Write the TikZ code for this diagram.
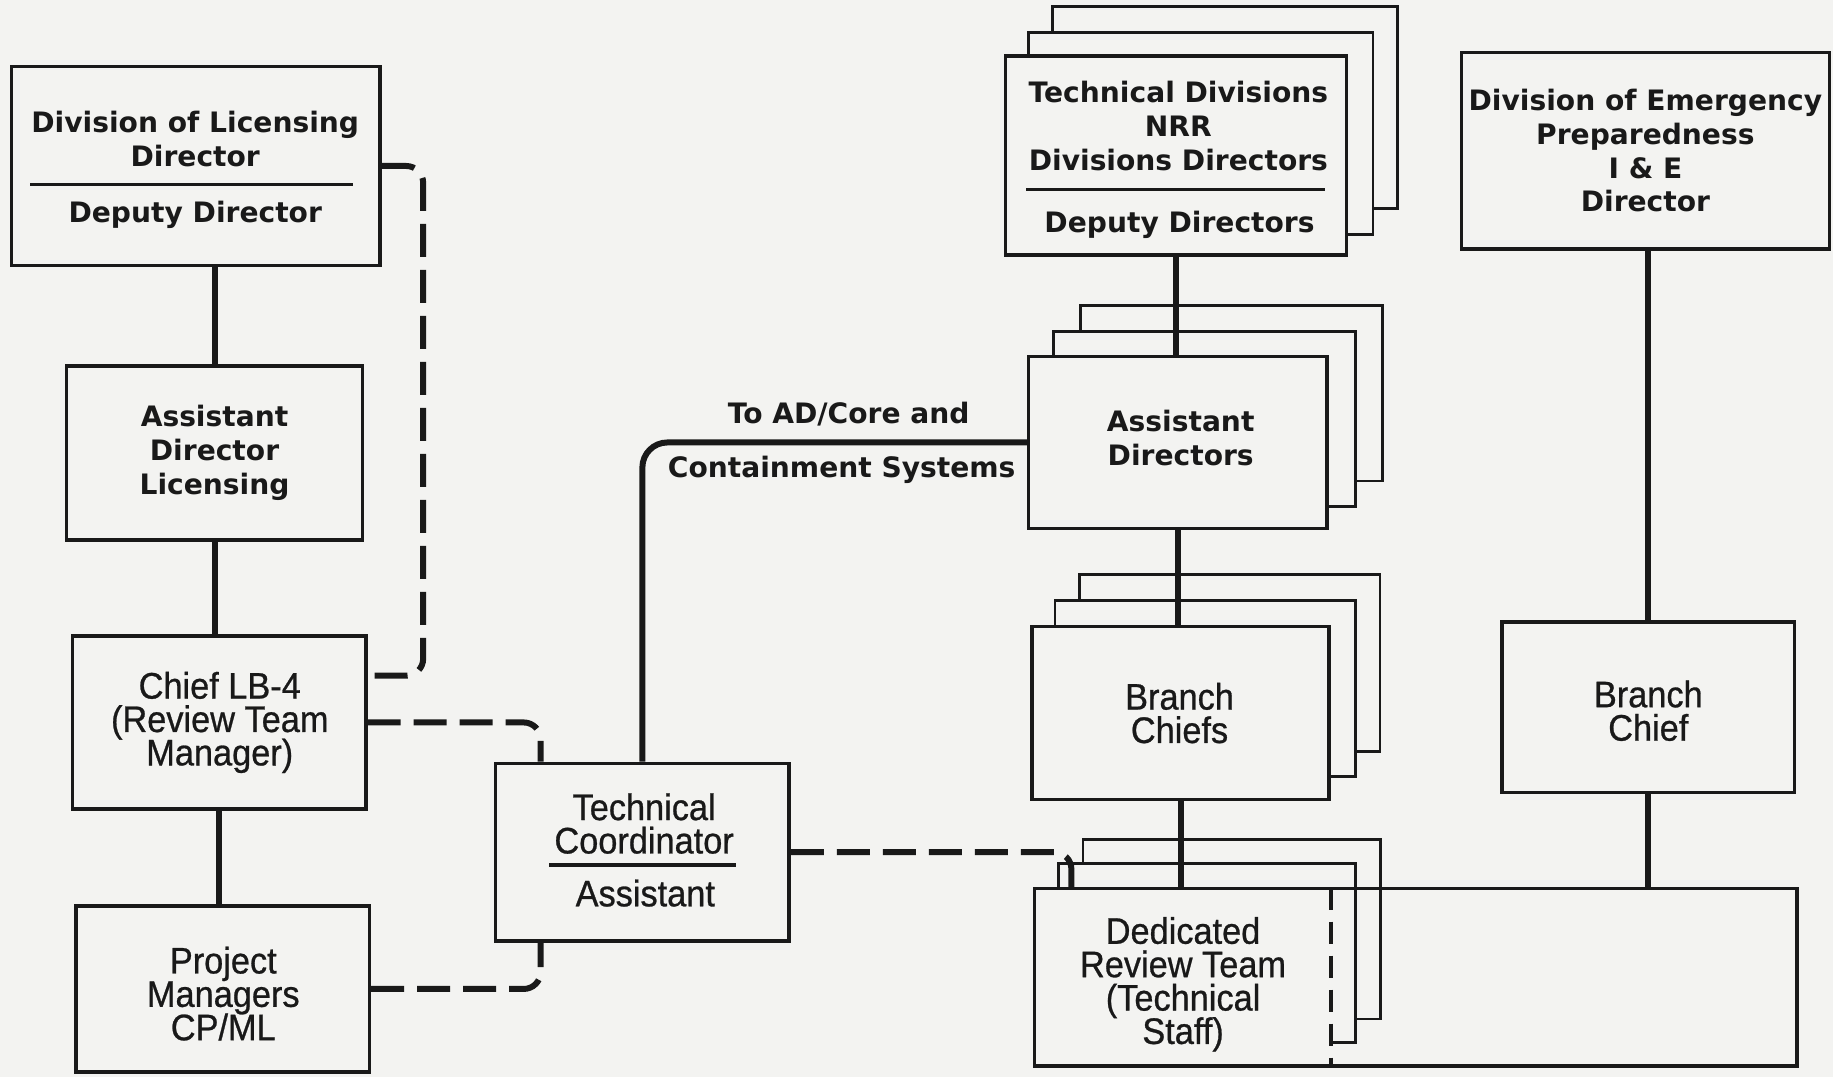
\documentclass[tikz,border=0pt]{standalone}
\usepackage{fontspec}
\setmainfont{Liberation Sans}
\newfontfamily\widefont{DejaVu Sans}
\newfontfamily\condfont[FakeStretch=0.93,FakeBold=0.7]{Liberation Sans}
\newcommand\condsetup{\condfont\fontsize{10.5}{9.5}\selectfont\lineskiplimit=-20pt\relax\lineskip=0pt\relax}
\usetikzlibrary{calc}
\definecolor{paper}{RGB}{243,243,241}
\definecolor{ink}{RGB}{25,25,25}
\pgfdeclarelayer{bg}
\pgfdeclarelayer{sheets}
\pgfsetlayers{bg,sheets,main}
\tikzset{
  box/.style={draw=ink, line width=1pt, fill=paper, rectangle, inner sep=0pt},
  sheet/.style={draw=ink, line width=0.8pt, fill=paper},
  wtxt/.style={font=\widefont\bfseries\fontsize{8}{9.6}\selectfont, text=ink, align=center, inner sep=0pt},
  ctxt/.style={font=\condsetup, text=ink, align=center, inner sep=0pt},
  conn/.style={draw=ink, line width=1.7pt},
  dconn/.style={draw=ink, line width=1.7pt, dash pattern=on 0.33cm off 0.13cm, rounded corners=0.17cm},
  sep/.style={draw=ink, line width=1pt},
}
\begin{document}
\begin{tikzpicture}[x=0.01169cm, y=-0.01169cm]
\useasboundingbox (0,0) rectangle (1568,921);
\begin{pgfonlayer}{bg}
\fill[paper] (0,0) rectangle (1568,921);
\end{pgfonlayer}

% left column
\node[box, minimum width=3.682cm, minimum height=1.987cm] (divlic) at (167.5,142) {};
\node[wtxt] (divlicT) at (167,119) {Division of Licensing\\Director};
\draw[sep] (26,158) -- (302,158);
\node[wtxt] (divlicB) at (167,184) {Deputy Director};

\node[box, wtxt, minimum width=2.958cm, minimum height=1.742cm] (adl) at (183.5,387.5) {Assistant\\Director\\Licensing};
\node[box, minimum width=2.934cm, minimum height=1.730cm] (chief) at (187.5,618) {};
\node[ctxt] (chiefT) at (188,618) {Chief LB-4\\(Review Team\\Manager)};
\node[box, minimum width=2.934cm, minimum height=1.660cm] (pm) at (190.5,846) {};
\node[ctxt] (pmT) at (191,850) {Project\\Managers\\CP/ML};

% technical coordinator
\node[box, minimum width=2.934cm, minimum height=1.777cm] (tc) at (549.5,729) {};
\node[ctxt] (tcT) at (551,704.5) {Technical\\Coordinator};
\draw[sep] (470,740) -- (630,740);
\node[ctxt] (tcB) at (552,764) {Assistant};

% technical divisions stack
\node[box, minimum width=3.413cm, minimum height=1.987cm] (tdn) at (1006,133) {};
\node[wtxt] (tdnT) at (1008,108) {Technical Divisions\\NRR\\Divisions Directors};
\draw[sep] (878,162) -- (1133,162);
\node[wtxt] (tdnB) at (1009,192) {Deputy Directors};

\node[box, minimum width=2.981cm, minimum height=1.718cm] (ad) at (1007.5,378.5) {};
\node[wtxt] (adT) at (1010,375) {Assistant\\Directors};
\node[box, minimum width=2.969cm, minimum height=1.730cm] (bc) at (1010,610) {};
\node[ctxt] (bcT) at (1009,610) {Branch\\Chiefs};

% dedicated review team
\node[fill=paper, draw=none, rectangle, inner sep=0pt, minimum width=2.958cm, minimum height=1.777cm] (drt) at (1011.5,836) {};
\node[ctxt] (drtT) at (1012,842) {Dedicated\\Review Team\\(Technical\\Staff)};
\node[draw=ink, line width=1pt, rectangle, inner sep=0pt, minimum width=7.622cm, minimum height=1.777cm] (drtbig) at (1211,836) {};
\draw[ink, line width=1pt, dash pattern=on 0.22cm off 0.12cm] (drt.north east) -- (drt.south east);

% emergency preparedness
\node[box, wtxt, minimum width=3.682cm, minimum height=1.964cm] (dep) at (1407.5,129) {Division of Emergency\\Preparedness\\I \& E\\Director};
\node[box, minimum width=2.923cm, minimum height=1.707cm] (bch) at (1410,605) {};
\node[ctxt] (bchT) at (1410,608) {Branch\\Chief};

% back sheets
\begin{pgfonlayer}{sheets}
\draw[sheet] ($(tdn.south west)+(42,-41)$) rectangle ($(tdn.north east)+(42,-41)$);
\draw[sheet] ($(tdn.south west)+(21,-19)$) rectangle ($(tdn.north east)+(21,-19)$);
\draw[sheet] ($(ad.south west)+(46,-42)$) rectangle ($(ad.north east)+(46,-42)$);
\draw[sheet] ($(ad.south west)+(23,-20)$) rectangle ($(ad.north east)+(23,-20)$);
\draw[sheet] ($(bc.south west)+(42,-43)$) rectangle ($(bc.north east)+(42,-43)$);
\draw[sheet] ($(bc.south west)+(21,-21)$) rectangle ($(bc.north east)+(21,-21)$);
\draw[sheet] ($(drt.south west)+(42,-41)$) rectangle ($(drt.north east)+(42,-41)$);
\draw[sheet] ($(drt.south west)+(21,-21)$) rectangle ($(drt.north east)+(21,-21)$);
\end{pgfonlayer}

% labels
\node[wtxt] (lblA) at (726,354) {To AD/Core and};
\node[wtxt] (lblB) at (720,402) {Containment Systems};

% solid connectors
\draw[conn] (adl.north) -- (adl.north |- divlic.south);
\draw[conn] (adl.south) -- (adl.south |- chief.north);
\draw[conn] (chief.south) -- (chief.south |- pm.north);
\draw[conn, rounded corners=0.25cm] (tc.north) |- (ad.west);
\draw[conn] (tdn.south) -- (tdn.south |- ad.north);
\draw[conn] (ad.south) -- (ad.south |- bc.north);
\draw[conn] (bc.south) -- (bc.south |- drt.north);
\draw[conn] (bch.north) -- (bch.north |- dep.south);
\draw[conn] (bch.south) -- (bch.south |- drtbig.north);

% dashed connectors
\draw[dconn] (divlic.east) -| (362,578) -- ($(chief.east)+(0,-40)$);
\draw[dconn] (chief.east) -| ($(tc.north)+(-87,0)$);
\draw[dconn] (pm.east) -| ($(tc.south)+(-87,0)$);
\draw[dconn] (tc.east) -| ($(drt.north)+(-95,0)$);
\end{tikzpicture}
\end{document}
